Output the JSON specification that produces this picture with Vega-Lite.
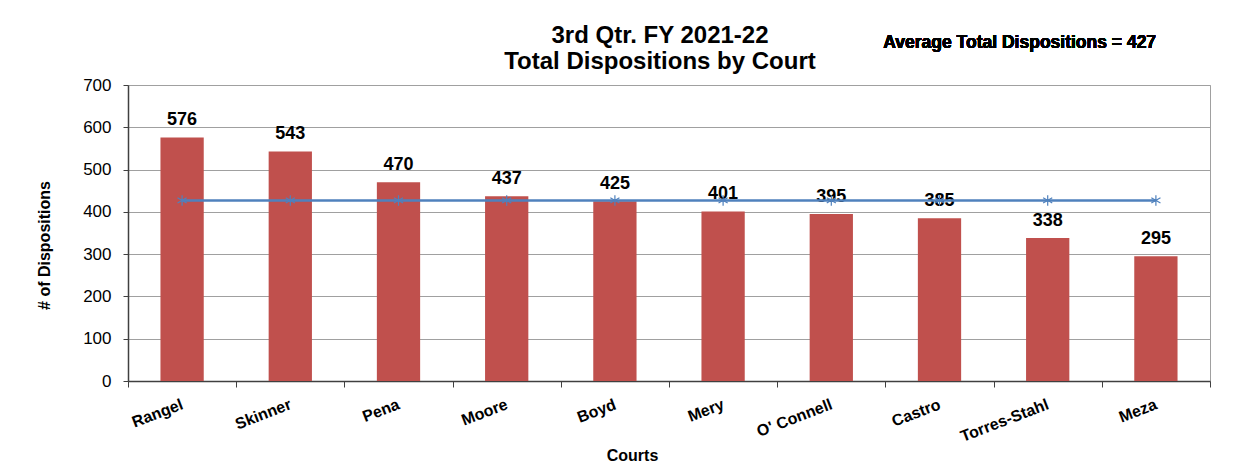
{
  "$schema": "https://vega.github.io/schema/vega-lite/v6.json",
  "width": 1082,
  "height": 296,
  "autosize": "none",
  "padding": {"left": 128, "top": 85, "right": 42, "bottom": 94},
  "background": "white",
  "title": {
    "text": ["3rd Qtr. FY 2021-22", "Total Dispositions by Court"],
    "font": "Liberation Sans",
    "fontSize": 24,
    "fontWeight": "bold",
    "color": "#000000",
    "anchor": "middle",
    "lineHeight": 26,
    "offset": 12,
    "dx": -9,
    "dy": 52
  },
  "data": {
    "values": [
      {"court": "Rangel", "value": 576, "avg": 427},
      {"court": "Skinner", "value": 543, "avg": 427},
      {"court": "Pena", "value": 470, "avg": 427},
      {"court": "Moore", "value": 437, "avg": 427},
      {"court": "Boyd", "value": 425, "avg": 427},
      {"court": "Mery", "value": 401, "avg": 427},
      {"court": "O' Connell", "value": 395, "avg": 427},
      {"court": "Castro", "value": 385, "avg": 427},
      {"court": "Torres-Stahl", "value": 338, "avg": 427},
      {"court": "Meza", "value": 295, "avg": 427}
    ]
  },
  "encoding": {
    "x": {
      "field": "court",
      "type": "nominal",
      "sort": null,
      "scale": {"paddingInner": 0, "paddingOuter": 0},
      "axis": {
        "title": "Courts",
        "titleFont": "Liberation Sans",
        "titleFontSize": 16,
        "titleFontWeight": "bold",
        "titleColor": "#000000",
        "titleX": 504,
        "titleY": 74,
        "titleBaseline": "middle",
        "tickBand": "extent",
        "tickSize": 6,
        "labelAngle": -21,
        "labelAlign": "right",
        "labelBaseline": "top",
        "labelPadding": 9,
        "labelOffset": -3,
        "labelFont": "Liberation Sans",
        "labelFontSize": 16,
        "labelFontWeight": "bold",
        "labelColor": "#000000",
        "grid": false
      }
    }
  },
  "layer": [
    {
      "mark": {"type": "bar", "color": "#C0504D", "width": {"band": 0.4}},
      "encoding": {
        "y": {
          "field": "value",
          "type": "quantitative",
          "scale": {"domain": [0, 700], "nice": false},
          "axis": {
            "title": "# of Dispositions",
            "titleFont": "Liberation Sans",
            "titleFontSize": 16,
            "titleFontWeight": "bold",
            "titleColor": "#000000",
            "titleX": -84,
            "titleY": 160,
            "titleAngle": -90,
            "titleAlign": "center",
            "titleBaseline": "middle",
            "values": [0, 100, 200, 300, 400, 500, 600, 700],
            "labelFont": "Liberation Sans",
            "labelFontSize": 17,
            "labelColor": "#000000",
            "labelPadding": 12,
            "tickSize": 5,
            "grid": true,
            "gridColor": "#A0A0A0",
            "gridWidth": 1
          }
        }
      }
    },
    {
      "mark": {
        "type": "text",
        "font": "Liberation Sans",
        "fontSize": 18,
        "fontWeight": "bold",
        "color": "#000000",
        "baseline": "alphabetic",
        "dy": -12
      },
      "encoding": {
        "y": {"field": "value", "type": "quantitative"},
        "text": {"field": "value", "type": "quantitative"}
      }
    },
    {
      "mark": {"type": "line", "color": "#4F81BD", "strokeWidth": 2.5},
      "encoding": {
        "y": {"field": "avg", "type": "quantitative"}
      }
    },
    {
      "mark": {
        "type": "point",
        "shape": "M0,-1L0,1M-0.87,-0.5L0.87,0.5M-0.87,0.5L0.87,-0.5",
        "filled": false,
        "stroke": "#4F81BD",
        "strokeWidth": 1.2,
        "size": 110,
        "opacity": 1
      },
      "encoding": {
        "y": {"field": "avg", "type": "quantitative"}
      }
    },
    {
      "mark": {
        "type": "text",
        "font": "Liberation Sans",
        "fontSize": 17.5,
        "fontWeight": "bold",
        "color": "#000000",
        "align": "center",
        "baseline": "middle",
        "dx": -28
      },
      "encoding": {
        "x": {"datum": "Torres-Stahl"},
        "y": {"datum": 800},
        "text": {"value": "Average Total Dispositions = 427"}
      }
    }
  ],
  "config": {
    "view": {"stroke": "#A0A0A0"},
    "axis": {"domainColor": "#404040", "tickColor": "#404040", "domainWidth": 1.5}
  }
}
